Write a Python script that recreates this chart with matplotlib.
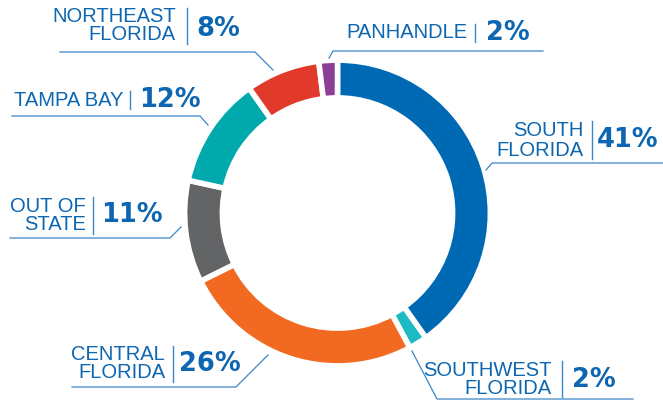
import matplotlib.pyplot as plt

regions = ["SOUTH FLORIDA", "SOUTHWEST FLORIDA", "CENTRAL FLORIDA", "OUT OF STATE",
           "TAMPA BAY", "NORTHEAST FLORIDA", "PANHANDLE"]
shares = [41, 2, 26, 11, 12, 8, 2]
colors = ["#0069b4", "#1bbac4", "#f26a22", "#636466", "#00a9ab", "#e1392a", "#8d3f98"]

# label layout (pixel coords, y from top): text lines, right edge of text, separator x, number x
label_layout = {
    "NORTHEAST FLORIDA": dict(lines=["NORTHEAST", "FLORIDA"], tx=176, ty=[17, 35], sep=187,
                              num=(196, 29), line=[(60, 52), (255, 52), (273, 70)]),
    "PANHANDLE": dict(lines=["PANHANDLE"], tx=467, ty=[33], sep=475,
                      num=(486, 33), line=[(543, 51), (333, 51), (329, 58)]),
    "TAMPA BAY": dict(lines=["TAMPA BAY"], tx=123, ty=[100], sep=130,
                      num=(139, 100), line=[(12, 116), (200, 116), (208, 125)]),
    "SOUTH FLORIDA": dict(lines=["SOUTH", "FLORIDA"], tx=584, ty=[130, 150], sep=592,
                          num=(597, 140), line=[(663, 163), (492, 163), (486, 170)]),
    "OUT OF STATE": dict(lines=["OUT OF", "STATE"], tx=86, ty=[206, 225], sep=93,
                         num=(101, 215), line=[(10, 238), (170, 238), (181, 227)]),
    "CENTRAL FLORIDA": dict(lines=["CENTRAL", "FLORIDA"], tx=165, ty=[355, 373], sep=173,
                            num=(179, 364), line=[(72, 387), (236, 387), (268, 355)]),
    "SOUTHWEST FLORIDA": dict(lines=["SOUTHWEST", "FLORIDA"], tx=552, ty=[370, 388], sep=562,
                              num=(572, 380), line=[(633, 399), (437, 399), (412, 351)]),
}

H = 401
text_blue = "#0d66b1"
line_blue = "#3a86c8"

fig = plt.figure(figsize=(6.63, 4.01), dpi=100)
ax = fig.add_axes([0, 0, 1, 1])

lw = 4
r_out = 150 + lw * 0.72
r_in = 118 - lw * 0.72
ax.pie(shares, colors=colors, startangle=90, counterclock=False,
       center=(337.5, H - 213), radius=r_out,
       wedgeprops=dict(width=r_out - r_in, edgecolor="white", linewidth=lw))

ax.set_xlim(0, 663)
ax.set_ylim(0, H)
ax.set_aspect("auto")
ax.axis("off")

for name, share in zip(regions, shares):
    lay = label_layout[name]
    for txt, y in zip(lay["lines"], lay["ty"]):
        ax.text(lay["tx"], H - y, txt, ha="right", va="center", fontsize=14.5,
                family="Liberation Sans", color=text_blue)
    ys = lay["ty"]
    top, bot = min(ys) - 9, max(ys) + 9
    ax.plot([lay["sep"], lay["sep"]], [H - top, H - bot], color=line_blue, lw=1)
    nx, ny = lay["num"]
    ax.text(nx, H - ny, f"{share}%", ha="left", va="center", fontsize=18.5,
            family="DejaVu Sans", weight="bold", color=text_blue)
    px = [p[0] for p in lay["line"]]
    py = [H - p[1] for p in lay["line"]]
    ax.plot(px, py, color=line_blue, lw=0.9)

fig.savefig("out.png", dpi=100)
